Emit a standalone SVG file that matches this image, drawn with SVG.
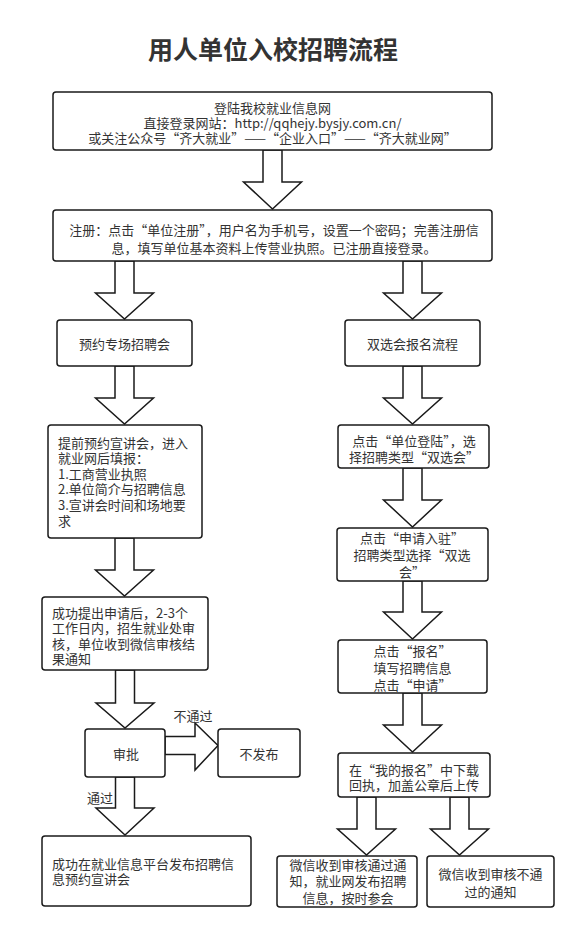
<svg xmlns="http://www.w3.org/2000/svg" width="578" height="931" viewBox="0 0 578 931">
<style>
.box{fill:#fff;stroke:#1a1a1a;stroke-width:1.5}
.arr{fill:#fff;stroke:#1a1a1a;stroke-width:1.5;stroke-linejoin:miter}
text{font-family:"Noto Sans CJK SC","Noto Sans",sans-serif;font-size:13px;fill:#333}
.c{text-anchor:middle}
.title{font-size:25px;font-weight:bold;fill:#333}
</style>
<rect width="578" height="931" fill="#fff"/>
<text class="title c" x="273" y="59">用人单位入校招聘流程</text>

<g id="connectors">
<polygon class="arr" points="263,150 282,150 282,182 301.5,182 272.5,209 243.5,182 263,182"/>
<polygon class="arr" points="115,261 134,261 134,293 153.5,293 124.5,319 95.5,293 115,293"/>
<polygon class="arr" points="403,261 422,261 422,293 441.5,293 412.5,319 383.5,293 403,293"/>
<polygon class="arr" points="115,366 134,366 134,398 153.5,398 124.5,424 95.5,398 115,398"/>
<polygon class="arr" points="403,366 422,366 422,398 441.5,398 412.5,424 383.5,398 403,398"/>
<polygon class="arr" points="403,468 422,468 422,500 441.5,500 412.5,527 383.5,500 403,500"/>
<polygon class="arr" points="115,538 134,538 134,570 153.5,570 124.5,596 95.5,570 115,570"/>
<polygon class="arr" points="403,581 422,581 422,612 441.5,612 412.5,639 383.5,612 403,612"/>
<polygon class="arr" points="115.5,670 134.5,670 134.5,703 154,703 125,728 96,703 115.5,703"/>
<polygon class="arr" points="403,693 422,693 422,725 441.5,725 412.5,752 383.5,725 403,725"/>
<polygon class="arr" points="165,736.5 195,736.5 195,723 218,745.5 195,770 195,754.5 165,754.5"/>
<polygon class="arr" points="115.5,777 134.5,777 134.5,808 154,808 125,835 96,808 115.5,808"/>
<polygon class="arr" points="357,797 376,797 376,829 395.5,829 366.5,855 337.5,829 357,829"/>
<polygon class="arr" points="450,797 469,797 469,829 488.5,829 459.5,855 430.5,829 450,829"/>
<text class="c" x="193" y="721">不通过</text>
<text class="c" x="100" y="803">通过</text>
</g>

<g id="n1">
<rect class="box" x="53" y="92" width="439" height="58" rx="3"/>
<text class="c" x="272.5" y="112.5">登陆我校就业信息网</text>
<text class="c" x="272.5" y="127.8">直接登录网站：http://qqhejy.bysjy.com.cn/</text>
<text class="c" x="272.5" y="143">或关注公众号“齐大就业”——“企业入口”——“齐大就业网”</text>
</g>
<g id="n2">
<rect class="box" x="53" y="210" width="439" height="51" rx="3"/>
<text class="c" x="274" y="234.5">注册：点击“单位注册”，用户名为手机号，设置一个密码；完善注册信</text>
<text class="c" x="274" y="252.5">息，填写单位基本资料上传营业执照。已注册直接登录。</text>
</g>
<g id="n3">
<rect class="box" x="57" y="320" width="135" height="46" rx="3"/>
<text class="c" x="124.5" y="348.5">预约专场招聘会</text>
</g>
<g id="n4">
<rect class="box" x="345" y="320" width="135" height="46" rx="3"/>
<text class="c" x="412.5" y="348.5">双选会报名流程</text>
</g>
<g id="n5">
<rect class="box" x="48" y="425" width="154" height="113" rx="3"/>
<text x="58" y="447.5">提前预约宣讲会，进入</text>
<text x="58" y="463.1">就业网后填报：</text>
<text x="58" y="478.7">1.工商营业执照</text>
<text x="58" y="494.3">2.单位简介与招聘信息</text>
<text x="58" y="509.9">3.宣讲会时间和场地要</text>
<text x="58" y="525.5">求</text>
</g>
<g id="n6">
<rect class="box" x="338" y="425" width="151" height="43" rx="3"/>
<text class="c" x="414" y="445.5">点击“单位登陆”，选</text>
<text class="c" x="414" y="461.5">择招聘类型“双选会”</text>
</g>
<g id="n7">
<rect class="box" x="337" y="528" width="151" height="53" rx="3"/>
<text class="c" x="412" y="542.5">点击“申请入驻”</text>
<text class="c" x="412" y="559.8">招聘类型选择“双选</text>
<text class="c" x="412" y="577">会”</text>
</g>
<g id="n8">
<rect class="box" x="42" y="597" width="166" height="73" rx="3"/>
<text x="52" y="617.5">成功提出申请后，2-3个</text>
<text x="52" y="633">工作日内，招生就业处审</text>
<text x="52" y="648.5">核，单位收到微信审核结</text>
<text x="52" y="664">果通知</text>
</g>
<g id="n9">
<rect class="box" x="338" y="640" width="149" height="53" rx="3"/>
<text class="c" x="412.5" y="655.5">点击“报名”</text>
<text class="c" x="412.5" y="672.5">填写招聘信息</text>
<text class="c" x="412.5" y="689.5">点击“申请”</text>
</g>
<g id="n10">
<rect class="box" x="85" y="729" width="80" height="48" rx="3"/>
<text class="c" x="126" y="758.5">审批</text>
</g>
<g id="n11">
<rect class="box" x="218" y="729" width="82" height="48" rx="3"/>
<text class="c" x="259" y="758.5">不发布</text>
</g>
<g id="n12">
<rect class="box" x="338" y="753" width="152" height="44" rx="3"/>
<text class="c" x="414" y="774.5">在“我的报名”中下载</text>
<text class="c" x="414" y="789.8">回执，加盖公章后上传</text>
</g>
<g id="n13">
<rect class="box" x="42" y="836" width="209" height="70" rx="3"/>
<text x="52" y="868.5">成功在就业信息平台发布招聘信</text>
<text x="52" y="883.8">息预约宣讲会</text>
</g>
<g id="n14">
<rect class="box" x="277" y="856" width="140" height="51" rx="3"/>
<text class="c" x="348" y="869.5">微信收到审核通过通</text>
<text class="c" x="348" y="886.3">知，就业网发布招聘</text>
<text class="c" x="348" y="902.8">信息，按时参会</text>
</g>
<g id="n15">
<rect class="box" x="427" y="856" width="127" height="51" rx="3"/>
<text class="c" x="490.5" y="878.5">微信收到审核不通</text>
<text class="c" x="490.5" y="896.5">过的通知</text>
</g>
</svg>
